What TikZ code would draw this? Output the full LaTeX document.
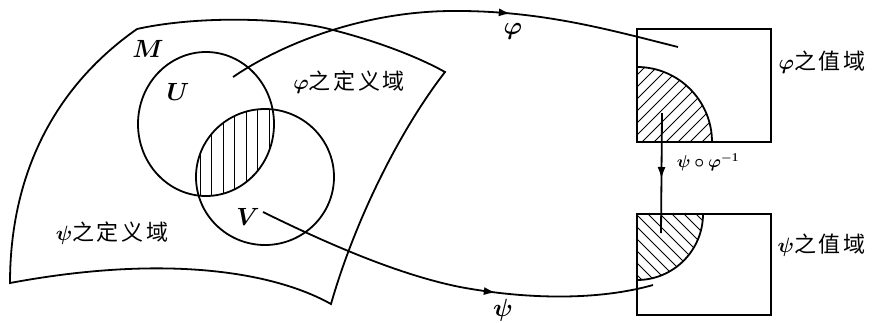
\documentclass[tikz,border=0pt]{standalone}
\usepackage{amsmath}
\usepackage{bm}
\usepackage{fontspec}
\newfontfamily\cjk[LetterSpace=12]{Noto Sans CJK SC}
\usetikzlibrary{arrows.meta, decorations.markings, positioning}

\begin{document}
\begin{tikzpicture}[
    x=1pt, y=-1pt,
    every node/.style={font=\fontsize{23}{25}\selectfont},
    outline/.style={line width=1.8pt, draw=black},
    hatch/.style={line width=1pt},
    zhlabel/.style={font=\fontsize{22}{24}\selectfont\cjk},
    maparrow/.style={
        line width=1.8pt, postaction={decorate},
        decoration={markings, mark=at position #1 with {\arrow{Latex[length=12pt,width=8pt]}}}
    }
]
\useasboundingbox (0,0) rectangle (874,322);

% Manifold M
\draw[outline] (137,29) .. controls (200,15) and (290,18) .. (333,30)
    .. controls (380,42) and (420,58) .. (445,72)
    .. controls (400,130) and (355,220) .. (331,304)
    .. controls (270,270) and (160,255) .. (10,283)
    .. controls (10,180) and (50,90) .. (137,29);
\node (mlabel) at (148,49) {$\bm{M}$};

% Charts U and V
\draw[outline] (206,124) ellipse[x radius=68, y radius=72];
\draw[outline] (265,177) ellipse[x radius=69, y radius=68];
\begin{scope}
    \clip (206,124) ellipse[x radius=68, y radius=72];
    \clip (265,177) ellipse[x radius=69, y radius=68];
    \foreach \x in {200,211.5,...,280}
        \draw[hatch] (\x,90) -- (\x,210);
\end{scope}
\node (ulabel) at (178,92) {$\bm{U}$};
\node (vlabel) at (248,217) {$\bm{V}$};
\node[zhlabel] (phidom) at (349,82) {$\bm{\varphi}$之定义域};
\node[zhlabel] (psidom) at (112,233) {$\bm{\psi}$之定义域};

% Images of the charts
\draw[outline, line width=2pt] (637,29) rectangle (771,142);
\draw[outline, line width=2pt] (637,214) rectangle (771,315);
\begin{scope}
    \clip (637,29) rectangle (771,142);
    \draw[outline] (637,142) circle[radius=75];
    \clip (637,142) circle[radius=75];
    \foreach \x in {550,562,...,712}
        \draw[hatch] (\x,150) -- ++(140,-140);
\end{scope}
\begin{scope}
    \clip (637,214) rectangle (771,315);
    \draw[outline] (637,214) circle[radius=66];
    \clip (637,214) circle[radius=66];
    \foreach \x in {550,562,...,700}
        \draw[hatch] (\x,200) -- ++(100,100);
\end{scope}
\node[zhlabel, anchor=west] (phiimg) at (775,62) {$\bm{\varphi}$之值域};
\node[zhlabel, anchor=west] (psiimg) at (774,245) {$\bm{\psi}$之值域};

% Maps
\coordinate (phistart) at (233,77);
\coordinate (phiend) at (678,47);
\coordinate (psistart) at (263,212);
\coordinate (psiend) at (653,285);
\coordinate (transtop) at (662,113);
\coordinate (transbot) at (661,233);

\draw[maparrow=0.63] (phistart) .. controls (280,45) and (360,12) .. (450,11)
    .. controls (540,10) and (610,30) .. (phiend);
\draw[maparrow=0.61] (psistart) .. controls (330,245) and (400,275) .. (460,287)
    .. controls (530,300) and (600,300) .. (psiend);
\draw[maparrow=0.55] (transtop) -- (transbot);

\node (philabel) at (513,31) {$\bm{\varphi}$};
\node (psilabel) at (503,310) {$\bm{\psi}$};
\node[font=\fontsize{18}{20}\selectfont] (translabel) at (708,162) {$\bm{\psi\circ\varphi^{-1}}$};

\end{tikzpicture}
\end{document}
